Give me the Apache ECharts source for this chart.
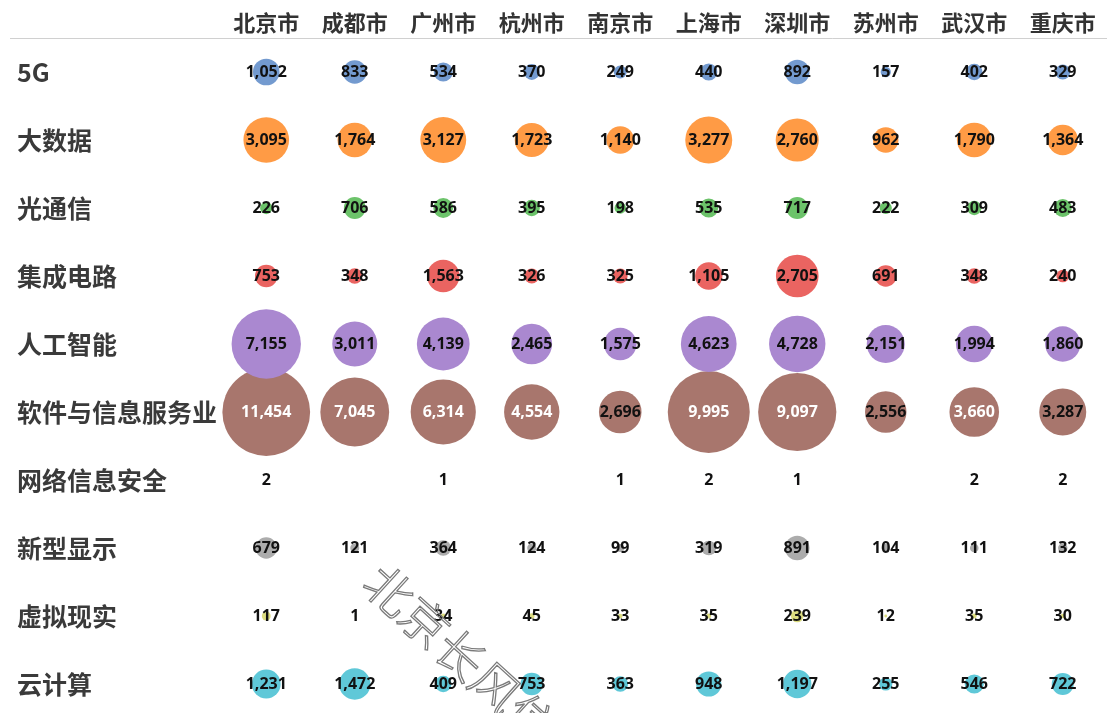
<!DOCTYPE html>
<html><head><meta charset="utf-8">
<script src="https://cdn.jsdelivr.net/npm/echarts@6/dist/echarts.min.js"></script>
<style>html,body{margin:0;padding:0;background:#fff}#c{width:1107px;height:713px}</style>
</head><body><div id="c"></div>
<script>
const cities = ['北京市','成都市','广州市','杭州市','南京市','上海市','深圳市','苏州市','武汉市','重庆市'];
const industries = ['5G','大数据','光通信','集成电路','人工智能','软件与信息服务业','网络信息安全','新型显示','虚拟现实','云计算'];
const v5G      = [1052,833,534,370,249,440,892,157,402,329];
const vBigData = [3095,1764,3127,1723,1140,3277,2760,962,1790,1364];
const vOptical = [226,706,586,395,198,535,717,222,309,483];
const vIC      = [753,348,1563,326,325,1105,2705,691,348,240];
const vAI      = [7155,3011,4139,2465,1575,4623,4728,2151,1994,1860];
const vSoftware= [11454,7045,6314,4554,2696,9995,9097,2556,3660,3287];
const vSecurity= [2,null,1,null,1,2,1,null,2,2];
const vDisplay = [679,121,364,124,99,319,891,104,111,132];
const vVR      = [117,1,34,45,33,35,239,12,35,30];
const vCloud   = [1231,1472,409,753,363,948,1197,255,546,722];
const rows = [v5G,vBigData,vOptical,vIC,vAI,vSoftware,vSecurity,vDisplay,vVR,vCloud];
const colors = ['#739acf','#ff9b45','#6cc36a','#ea6461','#aa88d0','#a8766d','#e58fcc','#acacac','#dcdc80','#5fc8d8'];

const chart = echarts.init(document.getElementById('c'));
const series = rows.map((vals, r) => ({
  type: 'scatter',
  z: 20 - r,
  clip: false,
  itemStyle: {color: colors[r], opacity: 1},
  emphasis: {disabled: true},
  symbolSize: d => 0.82 * Math.sqrt(d[2]),
  label: {
    show: true, position: 'inside',
    fontFamily: 'Open Sans, Noto Sans, sans-serif', fontWeight: 'bold', fontSize: 16,
    color: '#111111',
    formatter: p => p.data.value[2].toLocaleString('en-US')
  },
  data: vals.map((v, c) => v == null ? null : {
    value: [cities[c], industries[r], v],
    label: (r === 5 && v > 3500) ? {color: '#ffffff'} : undefined
  }).filter(x => x)
}));

chart.setOption({
  animation: false,
  backgroundColor: '#fff',
  grid: {left: 222, top: 72, width: 885, height: 612},
  xAxis: {
    type: 'category', data: cities, position: 'top', boundaryGap: true,
    axisLine: {show: false}, axisTick: {show: false}, splitLine: {show: false},
    axisLabel: {margin: 38, color: '#333', fontSize: 22, fontWeight: 'bold', fontFamily: 'Noto Sans CJK SC'}
  },
  yAxis: {
    type: 'category', data: industries, inverse: true, boundaryGap: false,
    axisLine: {show: false}, axisTick: {show: false}, splitLine: {show: false},
    axisLabel: {margin: 205, align: 'left', color: '#3a3a3a', fontSize: 25, fontWeight: 'bold', fontFamily: 'Noto Sans CJK SC'}
  },
  graphic: [
    {type: 'line', z: 1, shape: {x1: 10, y1: 38.5, x2: 1107, y2: 38.5}, style: {stroke: '#d0d0d0', lineWidth: 1}},
    {type: 'text', z: 100, x: 388, y: 556, rotation: -0.74,
     style: {text: '北京长风信息', font: '300 48px "Noto Sans CJK SC"', fill: 'rgba(255,255,255,0)', stroke: '#7a7a7a', lineWidth: 1.3}}
  ],
  series: series
});
</script></body></html>
